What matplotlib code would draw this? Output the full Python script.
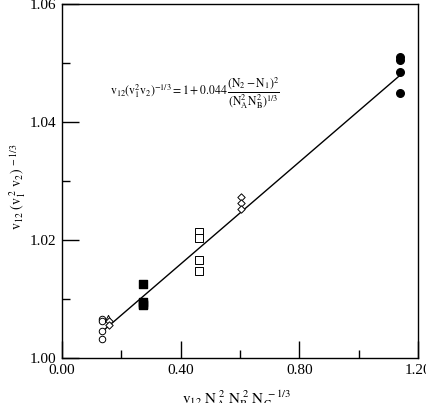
import matplotlib
matplotlib.use("Agg")
import matplotlib.pyplot as plt
from matplotlib.ticker import MultipleLocator

plt.rcParams['font.family'] = ['Liberation Serif', 'DejaVu Serif']
plt.rcParams['mathtext.fontset'] = 'stix'

# data
open_circ_x = [0.136, 0.136, 0.136, 0.136]
open_circ_y = [1.0066, 1.0062, 1.0046, 1.0033]
open_tri_x = [0.156]
open_tri_y = [1.0067]
small_dia_x = [0.160, 0.160]
small_dia_y = [1.0062, 1.0056]
fill_sq_x = [0.272, 0.272, 0.272, 0.272]
fill_sq_y = [1.0125, 1.0095, 1.0092, 1.0090]
open_sq_x = [0.463, 0.463, 0.463, 0.463]
open_sq_y = [1.0213, 1.0204, 1.0166, 1.0148]
open_dia_x = [0.604, 0.604, 0.604]
open_dia_y = [1.0273, 1.0262, 1.0252]
fill_circ_x = [1.140, 1.140, 1.140, 1.140]
fill_circ_y = [1.0510, 1.0505, 1.0485, 1.0449]
fit_x = [0.136, 1.139]
fit_y = [1.0045, 1.0479]

fig = plt.figure(figsize=(4.27, 4.03), dpi=100)
ax = fig.add_axes([62/427, 1-358/403, 356/427, 354/403])

ax.plot(fit_x, fit_y, color='black', lw=1.0, zorder=1)
ax.scatter(open_circ_x, open_circ_y, s=22, marker='o', facecolors='white', edgecolors='black', linewidths=0.7, zorder=2)
ax.scatter(open_tri_x, open_tri_y, s=20, marker='^', facecolors='white', edgecolors='black', linewidths=0.7, zorder=2)
ax.scatter(small_dia_x, small_dia_y, s=14, marker='D', facecolors='white', edgecolors='black', linewidths=0.7, zorder=2)
ax.scatter(fill_sq_x, fill_sq_y, s=30, marker='s', color='black', zorder=2)
ax.scatter(open_sq_x, open_sq_y, s=30, marker='s', facecolors='white', edgecolors='black', linewidths=0.7, zorder=2)
ax.scatter(open_dia_x, open_dia_y, s=14, marker='D', facecolors='white', edgecolors='black', linewidths=0.7, zorder=2)
ax.scatter(fill_circ_x, fill_circ_y, s=30, marker='o', color='black', zorder=2)

ax.set_xlim(0, 1.2)
ax.set_ylim(1.0, 1.06)
ax.xaxis.set_major_locator(MultipleLocator(0.4))
ax.xaxis.set_minor_locator(MultipleLocator(0.2))
ax.yaxis.set_major_locator(MultipleLocator(0.02))
ax.yaxis.set_minor_locator(MultipleLocator(0.01))
ax.xaxis.set_major_formatter(lambda v, p: f"{v:.2f}")
ax.yaxis.set_major_formatter(lambda v, p: f"{v:.2f}")
ax.tick_params(which='both', direction='in', top=False, right=False, labelsize=11, width=1.0)
ax.tick_params(which='major', length=12, pad=4)
ax.tick_params(which='minor', length=6)
for s in ax.spines.values():
    s.set_linewidth(1.0)

ax.text(0.162, 1.0449,
        r"$\mathrm{v}_{12}(\mathrm{v}_1^2\mathrm{v}_2)^{-1/3} = 1 + 0.044\,\dfrac{(\mathrm{N}_2-\mathrm{N}_1)^2}{(\mathrm{N}_\mathrm{A}^2\mathrm{N}_\mathrm{B}^2)^{1/3}}$",
        fontsize=8.5, ha='left', va='center')

fig.text(18/427, 1-187/403,
         r"$\mathrm{v}_{12}\ (\mathrm{v}_1^{\ 2}\ \mathrm{v}_2)^{\ -1/3}$",
         rotation=90, fontsize=10, ha='center', va='center')

fig.text(237/427, 1-388/403,
         r"$\mathrm{v}_{12}\ \mathrm{N}_\mathrm{A}^{\ 2}\ \mathrm{N}_\mathrm{B}^{\ 2}\ \mathrm{N}_\mathrm{C}^{\ -1/3}$",
         fontsize=11, ha='center', va='top')

fig.savefig('out.png', dpi=100)
